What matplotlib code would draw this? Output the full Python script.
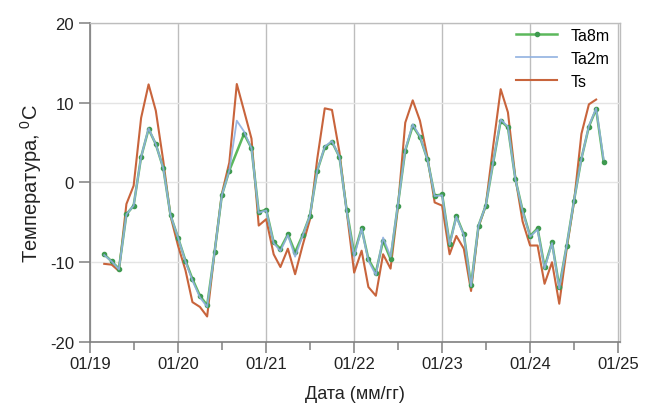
import numpy as np
import pandas as pd
import matplotlib
matplotlib.use('Agg')
import matplotlib.pyplot as plt
import matplotlib.dates as mdates

plt.rcParams['font.family'] = ['Liberation Sans', 'DejaVu Sans']
plt.rcParams['mathtext.default'] = 'regular'
plt.rcParams['axes.unicode_minus'] = False

# monthly values, March 2019 .. November 2024
dates = pd.date_range('2019-03-01', periods=69, freq='MS')

ta8m = [-9.0, -9.9, -10.8, -4.0, -2.9, 3.2, 6.7, 4.8, 1.8, -4.1,
        -6.9, -9.8, -12.1, -14.2, -15.4, -8.7, -1.6, 1.5, np.nan, 6.1,
        4.3, -3.7, -3.4, -7.5, -8.3, -6.5, -8.75, -6.6, -4.2, 1.5,
        4.4, 5.1, 3.2, -3.5, -8.9, -5.75, -9.6, -11.3, -7.3, -9.6,
        -2.9, 4.0, 7.1, 5.7, 2.9, -1.65, -1.5, -7.7, -4.2, -6.5,
        -12.9, -5.4, -2.9, 2.5, 7.75, 6.9, 0.4, -3.5, -6.7, -5.75,
        -10.6, -7.5, -13.1, -7.9, -2.3, 3.0, 7.0, 9.2, 2.6]

ta2m = [-9.1, -9.9, -10.9, -4.0, -2.9, 3.2, 6.8, 4.8, 1.8, -4.1,
        -6.9, -9.9, -12.3, -14.4, -15.6, -8.7, -1.6, 1.5, 7.75, 6.4,
        4.3, -3.8, -3.5, -7.6, -8.6, -6.6, -9.3, -6.7, -4.2, 1.5,
        4.5, 5.2, 3.2, -3.6, -9.3, -5.8, -9.8, -11.6, -6.9, -9.3,
        -2.9, 4.1, 7.3, 5.8, 2.9, -1.7, -1.6, -7.8, -4.3, -6.6,
        -13.0, -5.4, -2.9, 2.6, 7.9, 7.0, 0.4, -3.6, -6.8, -5.9,
        -10.8, -7.6, -13.3, -7.9, -2.3, 3.0, 7.1, 9.3, 2.9]

ts = [-10.2, -10.3, -11.1, -2.7, -0.4, 8.1, 12.3, 9.0, 2.7, -4.2,
      -7.9, -11.0, -15.0, -15.6, -16.8, -8.7, -1.4, 2.5, 12.35, 9.0,
      5.5, -5.4, -4.6, -9.0, -10.6, -8.3, -11.5, -7.9, -4.7, 3.0,
      9.3, 9.1, 3.8, -3.6, -11.3, -8.55, -13.1, -14.2, -9.0, -10.8,
      -3.3, 7.5, 10.3, 7.75, 3.2, -2.5, -2.9, -9.0, -6.7, -8.3,
      -13.6, -5.6, -2.9, 4.6, 11.7, 8.8, 0.6, -4.9, -7.9, -7.9,
      -12.7, -10.0, -15.2, -8.3, -2.5, 6.1, 9.8, 10.4, np.nan]

year_ticks = pd.date_range('2019-01-01', '2025-01-01', freq='YS')
half_ticks = pd.date_range('2019-07-01', '2024-07-01', freq='12MS')

fig = plt.figure(figsize=(6.49, 4.10), dpi=100)
ax = fig.add_axes([0.1387, 0.1634, 0.8166, 0.7781])

# Ta8m has a gap, so join the points that exist
a8 = np.array(ta8m)
ok = ~np.isnan(a8)
ax.plot(dates[ok], a8[ok], color='#5cb85c', lw=1.8, marker='o', ms=3,
        mfc='#3f9a50', mec='#3f9a50', label='Ta8m', zorder=3)
ax.plot(dates, ta2m, color='#8fb0e0', lw=1.3, alpha=0.9, label='Ta2m', zorder=4)
s = np.array(ts)
ok = ~np.isnan(s)
ax.plot(dates[ok], s[ok], color='#c8643c', lw=1.5, label='Ts', zorder=2)

ax.set_ylim(-20, 20)
ax.set_xlim(pd.Timestamp('2019-01-01'), pd.Timestamp('2025-01-08'))
ax.set_yticks([-20, -10, 0, 10, 20])
ax.set_xticks(year_ticks)
ax.set_xticks(half_ticks, minor=True)
ax.xaxis.set_major_formatter(mdates.DateFormatter('%m/%y'))

ax.grid(axis='x', which='major', color='#bdbdbd', lw=1.0)
ax.grid(axis='y', which='major', color='#e4e4e4', lw=1.0)
ax.set_axisbelow(True)

for side in ['left', 'bottom']:
    ax.spines[side].set_color('#808080')
    ax.spines[side].set_linewidth(1.2)
for side in ['top', 'right']:
    ax.spines[side].set_color('#bdbdbd')
    ax.spines[side].set_linewidth(1.0)

ax.tick_params(axis='both', which='major', direction='out', length=8,
               width=1.1, color='#808080', labelsize=12, labelcolor='#222222')
ax.tick_params(axis='x', which='minor', direction='out', length=6,
               width=1.1, color='#808080')
ax.tick_params(axis='x', pad=2)

ax.set_xlabel('Дата (мм/гг)', fontsize=13, color='#222222', labelpad=10)
ax.set_ylabel('Температура, $^0$C', fontsize=14.5, color='#222222', labelpad=4)

ax.legend(loc='upper right', frameon=False, fontsize=11.5, handlelength=2.6,
          labelspacing=0.5, borderaxespad=0.1, bbox_to_anchor=(0.995, 1.01))

fig.savefig('out.png', dpi=100)
